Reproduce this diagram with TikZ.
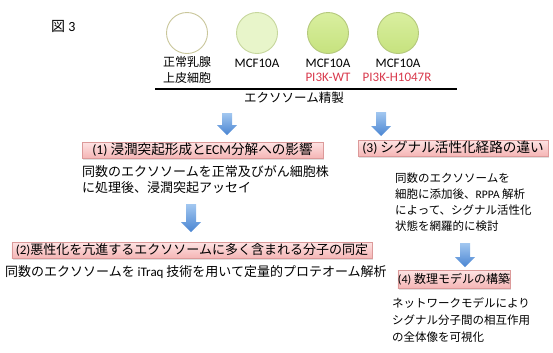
\documentclass[tikz,border=0pt]{standalone}
\usepackage{fontspec}
\setmainfont{Noto Sans CJK JP}
\newfontfamily\lat{Carlito}
\usetikzlibrary{shadows}
\newcommand\fs[2]{\fontsize{#1bp}{#2bp}\selectfont}
\newcommand\blockarrow[3]{% x, ytop, ybottom
  \shade[blockfill] (#1-5,#2) -- (#1+5,#2) -- (#1+5,#3-10) -- (#1+10,#3-10)
    -- (#1,#3) -- (#1-10,#3-10) -- (#1-5,#3-10) -- cycle;}
\definecolor{cellA}{HTML}{C9C69A}
\definecolor{cellBfill}{HTML}{E8F5CA}
\definecolor{cellBdraw}{HTML}{C6D69C}
\definecolor{cellCtop}{HTML}{D9EFA0}
\definecolor{cellCbot}{HTML}{C6E27E}
\definecolor{cellCdraw}{HTML}{B4C87C}
\definecolor{redlbl}{HTML}{D8394C}
\definecolor{pinktop}{HTML}{FDE3E3}
\definecolor{pinkbot}{HTML}{F5B6B6}
\definecolor{pinkdraw}{HTML}{DC9A9A}
\definecolor{arrtop}{HTML}{A2C7F0}
\definecolor{arrbot}{HTML}{4A85D2}
\begin{document}
\begin{tikzpicture}[x=1bp,y=-1bp,
  cell/.style={circle, minimum size=41bp, inner sep=0pt, line width=0.9bp},
  pinkbox/.style={draw=pinkdraw, line width=0.6bp, top color=pinktop, bottom color=pinkbot,
    inner sep=0pt, drop shadow={opacity=0.25, shadow xshift=1.2bp, shadow yshift=-1.5bp}},
  blockfill/.style={top color=arrtop, bottom color=arrbot},
  lbl/.style={inner sep=0pt},
  body/.style={inner sep=0pt, align=left, anchor=west}]
\useasboundingbox (0,0) rectangle (553,352);

\node[lbl, anchor=west, font=\fs{14}{17}] (fig) at (51,26) {図 {\lat 3}};

\node[cell, draw=cellA, fill=white] (c1) at (187,33) {};
\node[cell, draw=cellBdraw, fill=cellBfill] (c2) at (257,33) {};
\node[cell, draw=cellCdraw, top color=cellCtop, bottom color=cellCbot] (c3) at (328,33) {};
\node[cell, draw=cellCdraw, top color=cellCtop, bottom color=cellCbot] (c4) at (398,33) {};

\node[lbl, font=\fs{12}{14}] (n1a) at (187,62) {正常乳腺};
\node[lbl, font=\fs{12}{14}] (n1b) at (187,78) {上皮細胞};
\node[lbl, font=\lat\fs{13}{15}] (n2a) at (257,63) {MCF10A};
\node[lbl, font=\lat\fs{13}{15}] (n3a) at (328,63) {MCF10A};
\node[lbl, font=\lat\fs{13}{15}, text=redlbl] (n3b) at (328,77) {PI3K-WT};
\node[lbl, font=\lat\fs{13}{15}] (n4a) at (398,63) {MCF10A};
\node[lbl, font=\lat\fs{13}{15}, text=redlbl] (n4b) at (397,77) {PI3K-H1047R};

\coordinate (l1) at (155,89);
\coordinate (l2) at (457,89);
\draw[line width=1.1bp] (l1) -- (l2);
\node[lbl, font=\fs{12.5}{15}] (purif) at (294,98) {エクソソーム精製};

\blockarrow{227}{113}{135}
\blockarrow{381}{112}{136}

\node[pinkbox, minimum width=241bp, minimum height=16bp, font=\fs{13.6}{15}] (b1) at (202.5,150)
  {{\lat (1)} 浸潤突起形成と{\lat ECM}分解への影響};
\node[pinkbox, minimum width=190bp, minimum height=16bp, font=\fs{13.6}{15}] (b3) at (453,148)
  {{\lat (3)} シグナル活性化経路の違い};

\node[body, font=\fs{13}{16}] (t1) at (82,180)
  {同数のエクソソームを正常及びがん細胞株\\に処理後、浸潤突起アッセイ};
\node[body, font=\fs{11.5}{16}] (t3) at (395,202)
  {同数のエクソソームを\\細胞に添加後、{\lat RPPA} 解析\\によって、シグナル活性化\\状態を網羅的に検討};

\blockarrow{191}{204}{232}

\node[pinkbox, minimum width=360bp, minimum height=16bp, font=\fs{13}{15}] (b2) at (192,250)
  {{\lat (2)}悪性化を亢進するエクソソームに多く含まれる分子の同定};
\node[body, font=\fs{13}{16}] (t2) at (5,272)
  {同数のエクソソームを {\lat iTraq} 技術を用いて定量的プロテオーム解析};

\blockarrow{465}{243}{267}

\node[pinkbox, minimum width=108bp, minimum height=18bp, font=\fs{12}{14}] (b4) at (454,279)
  {{\lat (4)} 数理モデルの構築};
\node[body, font=\fs{11.5}{17}] (t4) at (392,320)
  {ネットワークモデルにより\\シグナル分子間の相互作用\\の全体像を可視化};
\end{tikzpicture}
\end{document}
